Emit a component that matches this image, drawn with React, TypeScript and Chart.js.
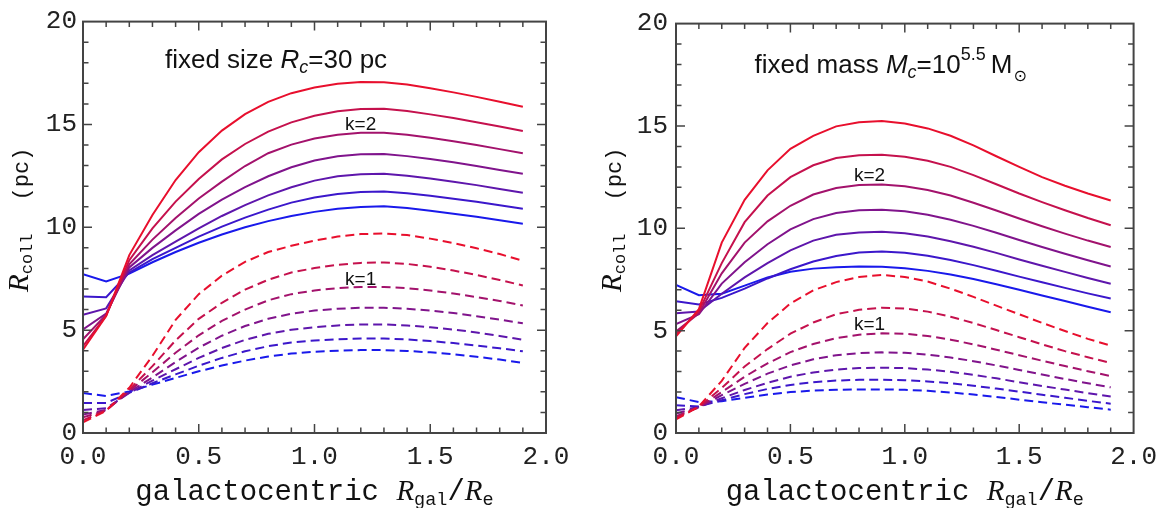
import React, { useEffect, useRef } from "react";
import { Chart, registerables } from "chart.js";
Chart.register(...registerables);

// galactocentric radius R_gal / R_e
const xs = [0, 0.1, 0.2, 0.3, 0.4, 0.5, 0.6, 0.7, 0.8, 0.9, 1.0, 1.1, 1.2, 1.3, 1.4, 1.5, 1.6, 1.7, 1.8, 1.9];

// tick labels
const xTickLabels = ["0.0", "0.5", "1.0", "1.5", "2.0"];
const yTickLabels = ["0", "5", "10", "15", "20"];

// Left panel: fixed size Rc = 30 pc, k=2 (solid), blue -> red
const sizeK2_1 = [7.72, 7.37, 7.75, 8.3, 8.8, 9.25, 9.65, 10.0, 10.3, 10.55, 10.75, 10.9, 10.99, 11.02, 10.94, 10.81, 10.66, 10.51, 10.34, 10.17];
const sizeK2_2 = [6.63, 6.6, 7.8, 8.45, 9.0, 9.55, 10.03, 10.47, 10.86, 11.2, 11.45, 11.62, 11.72, 11.74, 11.66, 11.53, 11.39, 11.24, 11.07, 10.9];
const sizeK2_3 = [5.75, 6.06, 7.9, 8.65, 9.3, 9.95, 10.55, 11.08, 11.55, 11.95, 12.27, 12.48, 12.58, 12.6, 12.51, 12.37, 12.21, 12.05, 11.86, 11.68];
const sizeK2_4 = [5.03, 5.8, 8.05, 9.0, 9.85, 10.65, 11.35, 11.95, 12.48, 12.92, 13.25, 13.45, 13.55, 13.56, 13.46, 13.32, 13.16, 12.98, 12.79, 12.6];
const sizeK2_5 = [4.56, 5.75, 8.2, 9.4, 10.45, 11.4, 12.22, 12.98, 13.6, 14.02, 14.32, 14.5, 14.6, 14.6, 14.5, 14.35, 14.18, 14.0, 13.8, 13.6];
const sizeK2_6 = [4.22, 5.7, 8.4, 9.95, 11.25, 12.35, 13.3, 14.05, 14.65, 15.1, 15.42, 15.64, 15.75, 15.76, 15.65, 15.49, 15.31, 15.11, 14.9, 14.68];
const sizeK2_7 = [4.05, 5.69, 8.65, 10.6, 12.3, 13.65, 14.7, 15.5, 16.1, 16.52, 16.8, 16.98, 17.06, 17.05, 16.94, 16.76, 16.56, 16.34, 16.1, 15.86];

// Left panel, k=1 (dashed)
const sizeK1_1 = [1.94, 1.8, 2.02, 2.35, 2.68, 3.0, 3.28, 3.52, 3.72, 3.86, 3.95, 4.0, 4.03, 4.03, 3.99, 3.92, 3.83, 3.71, 3.57, 3.41];
const sizeK1_2 = [1.46, 1.46, 1.95, 2.42, 2.85, 3.27, 3.65, 3.97, 4.22, 4.4, 4.5, 4.56, 4.59, 4.59, 4.55, 4.47, 4.37, 4.25, 4.12, 3.97];
const sizeK1_3 = [1.12, 1.2, 1.95, 2.55, 3.1, 3.65, 4.13, 4.53, 4.82, 5.02, 5.14, 5.23, 5.28, 5.28, 5.23, 5.14, 5.03, 4.89, 4.72, 4.53];
const sizeK1_4 = [0.9, 1.12, 2.0, 2.7, 3.45, 4.15, 4.73, 5.2, 5.55, 5.8, 5.95, 6.04, 6.09, 6.09, 6.04, 5.95, 5.83, 5.68, 5.51, 5.33];
const sizeK1_5 = [0.76, 1.1, 2.05, 2.95, 3.9, 4.75, 5.45, 6.0, 6.45, 6.75, 6.93, 7.04, 7.1, 7.1, 7.04, 6.93, 6.78, 6.61, 6.42, 6.2];
const sizeK1_6 = [0.62, 1.1, 2.1, 3.25, 4.5, 5.55, 6.33, 6.97, 7.45, 7.8, 8.02, 8.18, 8.27, 8.29, 8.22, 8.08, 7.9, 7.68, 7.44, 7.17];
const sizeK1_7 = [0.52, 1.08, 2.2, 3.75, 5.5, 6.75, 7.65, 8.32, 8.8, 9.1, 9.35, 9.55, 9.67, 9.7, 9.62, 9.45, 9.23, 8.98, 8.7, 8.37];

// Right panel: fixed mass Mc = 10^5.5 Msun, k=2 (solid)
const massK2_1 = [7.24, 6.73, 6.8, 7.2, 7.6, 7.88, 8.03, 8.1, 8.13, 8.12, 8.05, 7.92, 7.74, 7.52, 7.27, 7.0, 6.72, 6.45, 6.17, 5.9];
const massK2_2 = [6.44, 6.28, 6.6, 7.05, 7.55, 8.0, 8.38, 8.65, 8.82, 8.87, 8.8, 8.66, 8.45, 8.2, 7.93, 7.64, 7.36, 7.09, 6.82, 6.57];
const massK2_3 = [5.85, 5.93, 6.8, 7.6, 8.3, 8.92, 9.4, 9.68, 9.8, 9.83, 9.76, 9.6, 9.37, 9.1, 8.8, 8.48, 8.17, 7.87, 7.57, 7.29];
const massK2_4 = [5.32, 5.8, 7.3, 8.34, 9.22, 9.95, 10.45, 10.75, 10.88, 10.91, 10.83, 10.66, 10.42, 10.12, 9.78, 9.43, 9.09, 8.76, 8.44, 8.13];
const massK2_5 = [4.96, 5.85, 7.8, 9.3, 10.34, 11.1, 11.65, 11.97, 12.11, 12.14, 12.05, 11.87, 11.6, 11.25, 10.87, 10.48, 10.1, 9.74, 9.4, 9.09];
const massK2_6 = [4.83, 5.95, 8.3, 10.3, 11.6, 12.5, 13.08, 13.43, 13.57, 13.59, 13.5, 13.3, 13.0, 12.6, 12.15, 11.7, 11.28, 10.88, 10.5, 10.15];
const massK2_7 = [4.72, 6.05, 9.3, 11.39, 12.83, 13.88, 14.52, 14.98, 15.18, 15.24, 15.12, 14.88, 14.52, 14.05, 13.52, 13.0, 12.5, 12.08, 11.7, 11.36];

// Right panel, k=1 (dashed)
const massK1_1 = [1.75, 1.51, 1.55, 1.72, 1.88, 2.0, 2.07, 2.11, 2.13, 2.13, 2.11, 2.06, 1.98, 1.88, 1.76, 1.63, 1.5, 1.38, 1.26, 1.14];
const massK1_2 = [1.35, 1.3, 1.6, 1.9, 2.15, 2.35, 2.48, 2.56, 2.6, 2.6, 2.58, 2.52, 2.43, 2.31, 2.17, 2.02, 1.87, 1.72, 1.57, 1.43];
const massK1_3 = [1.11, 1.26, 1.7, 2.1, 2.45, 2.75, 2.96, 3.1, 3.17, 3.19, 3.17, 3.1, 2.99, 2.84, 2.67, 2.48, 2.3, 2.12, 1.95, 1.78];
const massK1_4 = [0.95, 1.25, 1.85, 2.4, 2.9, 3.3, 3.6, 3.8, 3.9, 3.94, 3.92, 3.83, 3.69, 3.51, 3.3, 3.08, 2.86, 2.64, 2.43, 2.23];
const massK1_5 = [0.82, 1.25, 2.0, 2.75, 3.4, 3.95, 4.35, 4.63, 4.8, 4.87, 4.85, 4.74, 4.56, 4.33, 4.07, 3.8, 3.53, 3.27, 3.02, 2.78];
const massK1_6 = [0.74, 1.28, 2.2, 3.25, 4.1, 4.85, 5.4, 5.8, 6.02, 6.12, 6.08, 5.93, 5.68, 5.37, 5.03, 4.68, 4.33, 4.0, 3.7, 3.42];
const massK1_7 = [0.66, 1.3, 2.55, 4.16, 5.37, 6.33, 6.97, 7.37, 7.62, 7.72, 7.62, 7.4, 7.05, 6.65, 6.22, 5.8, 5.38, 4.98, 4.6, 4.27];

const lineColors = ["#1919eb", "#3b17cb", "#5e16ac", "#80148c", "#a3126c", "#c5114d", "#e80f2d"];

const MONO = "'Liberation Mono', 'DejaVu Sans Mono', monospace";
const SANS = "'Liberation Sans', Arial, sans-serif";
const SERIF = "'Liberation Serif', 'DejaVu Serif', serif";

type Piece = { t: string; font: string; dy?: number; gap?: number };

function drawPieces(ctx: CanvasRenderingContext2D, pieces: Piece[], x: number, y: number, align: "left" | "center") {
  ctx.textBaseline = "alphabetic";
  ctx.textAlign = "left";
  let total = 0;
  for (const p of pieces) {
    ctx.font = p.font;
    total += (p.gap || 0) + ctx.measureText(p.t).width;
  }
  let cx = align === "center" ? x - total / 2 : x;
  for (const p of pieces) {
    ctx.font = p.font;
    cx += p.gap || 0;
    ctx.fillText(p.t, cx, y + (p.dy || 0));
    cx += ctx.measureText(p.t).width;
  }
}

type PanelCfg = {
  solids: number[][];
  dashes: number[][];
  yAxisWidth: number;
  padRight: number;
  yTickPad: number;
  title: Piece[];
  titlePos: [number, number];
  kLabels: { text: string; x: number; y: number }[];
};

const xTitle: Piece[] = [
  { t: "galactocentric ", font: `29px ${MONO}` },
  { t: "R", font: `italic 29px ${SERIF}` },
  { t: "gal", font: `18.5px ${MONO}`, dy: 5 },
  { t: "/", font: `29px ${MONO}` },
  { t: "R", font: `italic 29px ${SERIF}` },
  { t: "e", font: `18.5px ${MONO}`, dy: 5 },
];

const yTitle: Piece[] = [
  { t: "R", font: `italic 29px ${SERIF}` },
  { t: "coll", font: `17px ${MONO}`, dy: 4 },
  { t: "(pc)", font: `22px ${MONO}`, gap: 33 },
];

const leftCfg: PanelCfg = {
  solids: [sizeK2_1, sizeK2_2, sizeK2_3, sizeK2_4, sizeK2_5, sizeK2_6, sizeK2_7],
  dashes: [sizeK1_1, sizeK1_2, sizeK1_3, sizeK1_4, sizeK1_5, sizeK1_6, sizeK1_7],
  yAxisWidth: 83,
  padRight: 37,
  yTickPad: 6,
  title: [
    { t: "fixed size ", font: `26px ${SANS}` },
    { t: "R", font: `italic 26px ${SANS}` },
    { t: "c", font: `italic 18px ${SANS}`, dy: 5 },
    { t: "=30 pc", font: `26px ${SANS}` },
  ],
  titlePos: [0.354, 17.73],
  kLabels: [
    { text: "k=2", x: 1.132, y: 14.73 },
    { text: "k=1", x: 1.132, y: 7.21 },
  ],
};

const rightCfg: PanelCfg = {
  solids: [massK2_1, massK2_2, massK2_3, massK2_4, massK2_5, massK2_6, massK2_7],
  dashes: [massK1_1, massK1_2, massK1_3, massK1_4, massK1_5, massK1_6, massK1_7],
  yAxisWidth: 93,
  padRight: 29,
  yTickPad: 8,
  title: [
    { t: "fixed mass ", font: `26px ${SANS}` },
    { t: "M", font: `italic 26px ${SANS}` },
    { t: "c", font: `italic 18px ${SANS}`, dy: 5 },
    { t: "=10", font: `26px ${SANS}` },
    { t: "5.5", font: `18px ${SANS}`, dy: -13 },
    { t: "M", font: `26px ${SANS}`, gap: 5 },
    { t: "\u2299", font: `16px 'DejaVu Sans', sans-serif`, dy: 8, gap: 1 },
  ],
  titlePos: [0.343, 17.59],
  kLabels: [
    { text: "k=2", x: 0.778, y: 12.32 },
    { text: "k=1", x: 0.778, y: 5.05 },
  ],
};

function Panel({ cfg, left }: { cfg: PanelCfg; left: number }) {
  const ref = useRef<HTMLCanvasElement | null>(null);
  useEffect(() => {
    if (!ref.current) return;
    const toPts = (arr: number[]) => arr.map((y, i) => ({ x: xs[i], y }));
    const datasets: any[] = [];
    for (let i = 6; i >= 0; i--) {
      datasets.push({
        data: toPts(cfg.solids[i]),
        borderColor: lineColors[i],
        borderWidth: 2,
        pointRadius: 0,
        tension: 0,
        fill: false,
      });
    }
    for (let i = 6; i >= 0; i--) {
      datasets.push({
        data: toPts(cfg.dashes[i]),
        borderColor: lineColors[i],
        borderWidth: 2,
        borderDash: [9, 5],
        pointRadius: 0,
        tension: 0,
        fill: false,
      });
    }
    const extras = {
      id: "extras",
      afterDraw(chart: any) {
        const ctx: CanvasRenderingContext2D = chart.ctx;
        const a = chart.chartArea;
        const xs_ = chart.scales.x;
        const ys_ = chart.scales.y;
        ctx.save();
        ctx.strokeStyle = "#444";
        ctx.lineWidth = 2;
        ctx.strokeRect(a.left, a.top, a.right - a.left, a.bottom - a.top);
        ctx.lineWidth = 1.5;
        ctx.beginPath();
        for (let k = 1; k < 20; k++) {
          const px = xs_.getPixelForValue(k / 10);
          const len = k % 5 === 0 ? 9 : 5.5;
          ctx.moveTo(px, a.bottom);
          ctx.lineTo(px, a.bottom - len);
          ctx.moveTo(px, a.top);
          ctx.lineTo(px, a.top + len);
        }
        for (let k = 1; k < 20; k++) {
          const py = ys_.getPixelForValue(k);
          const len = k % 5 === 0 ? 9 : 5.5;
          ctx.moveTo(a.left, py);
          ctx.lineTo(a.left + len, py);
          ctx.moveTo(a.right, py);
          ctx.lineTo(a.right - len, py);
        }
        ctx.stroke();
        ctx.fillStyle = "#111";
        drawPieces(ctx, xTitle, (a.left + a.right) / 2, a.bottom + 67, "center");
        ctx.save();
        ctx.translate(a.left - 55, a.bottom - 141);
        ctx.rotate(-Math.PI / 2);
        drawPieces(ctx, yTitle, 0, 0, "left");
        ctx.restore();
        drawPieces(ctx, cfg.title, xs_.getPixelForValue(cfg.titlePos[0]), ys_.getPixelForValue(cfg.titlePos[1]), "left");
        for (const k of cfg.kLabels) {
          drawPieces(ctx, [{ t: k.text, font: `19px ${SANS}` }], xs_.getPixelForValue(k.x), ys_.getPixelForValue(k.y), "left");
        }
        ctx.restore();
      },
    };
    const chart = new Chart(ref.current, {
      type: "line",
      data: { datasets },
      options: {
        responsive: false,
        animation: false,
        layout: { padding: { top: 18, right: cfg.padRight, left: 0, bottom: 0 } },
        plugins: { legend: { display: false }, tooltip: { enabled: false } },
        scales: {
          x: {
            type: "linear",
            min: 0,
            max: 2,
            ticks: {
              stepSize: 0.5,
              autoSkip: false,
              maxRotation: 0,
              padding: 9,
              color: "#222",
              font: { family: MONO, size: 26 },
              callback: (v: any) => {
                const i = Math.round(Number(v) * 2);
                return xTickLabels[i] ?? "";
              },
            },
            grid: { display: false, drawTicks: false },
            border: { display: false },
            afterFit: (s: any) => {
              s.height = 75;
            },
          },
          y: {
            type: "linear",
            min: 0,
            max: 20,
            ticks: {
              stepSize: 5,
              padding: cfg.yTickPad,
              color: "#222",
              font: { family: MONO, size: 26 },
              callback: (v: any) => {
                const i = Math.round(Number(v) / 5);
                return yTickLabels[i] ?? "";
              },
            },
            grid: { display: false, drawTicks: false },
            border: { display: false },
            afterFit: (s: any) => {
              s.width = cfg.yAxisWidth;
            },
          },
        },
      } as any,
      plugins: [extras],
    });
    return () => chart.destroy();
  }, [cfg]);
  return (
    <canvas
      ref={ref}
      width={583}
      height={508}
      style={{ position: "absolute", left, top: 0, width: 583, height: 508 }}
    />
  );
}

export default function App() {
  return (
    <div style={{ position: "fixed", left: 0, top: 0, width: 1166, height: 508, background: "#fff" }}>
      <Panel cfg={leftCfg} left={0} />
      <Panel cfg={rightCfg} left={583} />
    </div>
  );
}
